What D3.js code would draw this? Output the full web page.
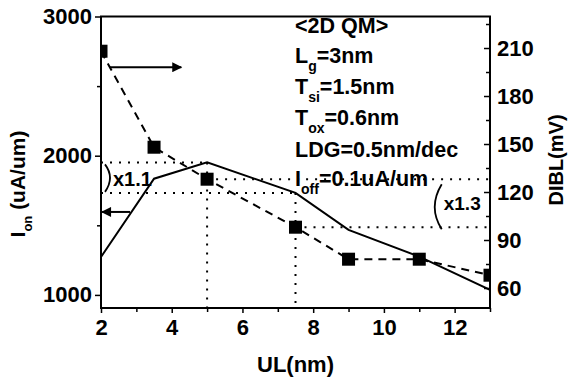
<!DOCTYPE html>
<html>
<head>
<meta charset="utf-8">
<script src="https://cdn.jsdelivr.net/npm/d3@7"></script>
<style>
  body { margin: 0; background: #fff; }
  svg text { font-family: "Liberation Sans", Arial, sans-serif; font-weight: bold; fill: #000; }
</style>
</head>
<body>
<div id="chart"></div>
<script>
// data
var ulValues = [2, 3.5, 5, 7.5, 9, 11, 13];            // UL (nm)
var ionValues = [1273, 1835, 1952, 1733, 1467, 1275, 1036]; // Ion (uA/um), solid line
var diblValues = [208, 148, 128, 98, 78, 78, 68];       // DIBL (mV), dashed + squares
var xTicks = [2, 4, 6, 8, 10, 12];
var xMinor = [3, 5, 7, 9, 11, 13];
var ionTicks = [1000, 2000, 3000];
var ionMinor = [1500, 2500];
var diblTicks = [60, 90, 120, 150, 180, 210];
var diblMinor = [75, 105, 135, 165, 195, 225];
var infoLines = [
  {main: "<2D QM>", sub: "", rest: ""},
  {main: "L", sub: "g", rest: "=3nm"},
  {main: "T", sub: "si", rest: "=1.5nm"},
  {main: "T", sub: "ox", rest: "=0.6nm"},
  {main: "LDG=0.5nm/dec", sub: "", rest: ""},
  {main: "I", sub: "off", rest: "=0.1uA/um"}
];
// index of the peak point and the UL=7.5 point used by the ratio guides
var peakIdx = 2, cmpIdx = 3;

var svgWidth = 569, svgHeight = 380;
var margin = {top: 16.5, right: 79, bottom: 72, left: 101};
var width = svgWidth - margin.left - margin.right;
var height = svgHeight - margin.top - margin.bottom;

var svg = d3.select("#chart").append("svg")
    .attr("width", svgWidth)
    .attr("height", svgHeight);

var chart = svg.append("g")
    .attr("transform", `translate(${margin.left}, ${margin.top})`);

var x = d3.scaleLinear().domain([2, 13]).range([0, width]);
var yL = d3.scaleLinear().domain([906, 3000]).range([height, 0]);
var yR = d3.scaleLinear().domain([47.5, 229.7]).range([height, 0]);

svg.append("defs").append("clipPath").attr("id", "plotclip")
  .append("rect").attr("width", width).attr("height", height);

svg.select("defs").append("marker")
    .attr("id", "head")
    .attr("viewBox", "0 0 10 10")
    .attr("refX", 9).attr("refY", 5)
    .attr("markerWidth", 12).attr("markerHeight", 10)
    .attr("markerUnits", "userSpaceOnUse")
    .attr("orient", "auto")
  .append("path").attr("d", "M0,0 L10,5 L0,10 Z").attr("fill", "#000");

// axes
function styleAxis(g) {
  g.select(".domain").remove();
  g.selectAll(".tick line").attr("stroke", "#000").attr("stroke-width", 1.5);
  g.selectAll("text").attr("font-size", "22px");
}

chart.append("g").attr("transform", `translate(0, ${height})`)
  .call(d3.axisBottom(x).tickValues(xTicks).tickFormat(d3.format("d")).tickSize(5).tickPadding(6))
  .call(styleAxis);
chart.append("g").attr("transform", `translate(0, ${height})`)
  .call(d3.axisBottom(x).tickValues(xMinor).tickFormat("").tickSize(4))
  .call(styleAxis);

chart.append("g")
  .call(d3.axisLeft(yL).tickValues(ionTicks).tickFormat(d3.format("d")).tickSize(6).tickPadding(3))
  .call(styleAxis);
chart.append("g")
  .call(d3.axisLeft(yL).tickValues(ionMinor).tickFormat("").tickSize(4))
  .call(styleAxis);

chart.append("g").attr("transform", `translate(${width}, 0)`)
  .call(d3.axisRight(yR).tickValues(diblTicks).tickFormat(d3.format("d")).tickSize(-6).tickPadding(7))
  .call(styleAxis);
chart.append("g").attr("transform", `translate(${width}, 0)`)
  .call(d3.axisRight(yR).tickValues(diblMinor).tickFormat("").tickSize(-4))
  .call(styleAxis);

// frame
chart.append("rect")
  .attr("width", width).attr("height", height)
  .attr("fill", "none").attr("stroke", "#000").attr("stroke-width", 2);

// dotted ratio guides
var guides = chart.append("g")
  .attr("stroke", "#000").attr("stroke-width", 2)
  .attr("stroke-dasharray", "2,7").attr("fill", "none");
[peakIdx, cmpIdx].forEach(function(i) {
  guides.append("line")
    .attr("x1", x(2)).attr("x2", x(ulValues[i]))
    .attr("y1", yL(ionValues[i])).attr("y2", yL(ionValues[i]));
  guides.append("line")
    .attr("x1", x(ulValues[i])).attr("x2", x(ulValues[i]))
    .attr("y1", yL(ionValues[i])).attr("y2", height);
  guides.append("line")
    .attr("x1", x(ulValues[i])).attr("x2", x(13))
    .attr("y1", yR(diblValues[i])).attr("y2", yR(diblValues[i]));
});

var plot = chart.append("g").attr("clip-path", "url(#plotclip)");

// Ion solid line
var ionLine = d3.line().x((d, i) => x(ulValues[i])).y(d => yL(d));
plot.append("path").datum(ionValues)
  .attr("d", ionLine)
  .attr("fill", "none").attr("stroke", "#000").attr("stroke-width", 2);

// DIBL dashed line + squares
var diblLine = d3.line().x((d, i) => x(ulValues[i])).y(d => yR(d));
plot.append("path").datum(diblValues)
  .attr("d", diblLine)
  .attr("fill", "none").attr("stroke", "#000").attr("stroke-width", 2)
  .attr("stroke-dasharray", "8,6");

var sq = 13;
plot.selectAll("rect.pt").data(diblValues).enter().append("rect")
  .attr("class", "pt")
  .attr("x", (d, i) => x(ulValues[i]) - sq / 2)
  .attr("y", d => yR(d) - sq / 2)
  .attr("width", sq).attr("height", sq)
  .attr("fill", "#000");

// arrows showing which axis each curve uses
chart.append("line")
  .attr("x1", x(2.25)).attr("x2", x(4.27))
  .attr("y1", yR(198)).attr("y2", yR(198))
  .attr("stroke", "#000").attr("stroke-width", 2).attr("marker-end", "url(#head)");
chart.append("line")
  .attr("x1", x(2.82)).attr("x2", x(2.03))
  .attr("y1", yL(1596)).attr("y2", yL(1596))
  .attr("stroke", "#000").attr("stroke-width", 2).attr("marker-end", "url(#head)");

// ratio brackets and labels
var bx1 = x(2) + 4;
chart.append("path")
  .attr("d", `M${bx1},${yL(ionValues[peakIdx]) + 2} Q${bx1 + 10},${(yL(ionValues[peakIdx]) + yL(ionValues[cmpIdx])) / 2} ${bx1},${yL(ionValues[cmpIdx]) - 1}`)
  .attr("fill", "none").attr("stroke", "#000").attr("stroke-width", 1.8);
chart.append("text")
  .attr("x", bx1 + 8).attr("y", yL(ionValues[cmpIdx]) - 7)
  .attr("font-size", "20px").text("x1.1");

var bx2 = x(11.55);
chart.append("path")
  .attr("d", `M${bx2 + 3},${yR(diblValues[peakIdx]) + 5} Q${bx2 - 11},${(yR(diblValues[peakIdx]) + yR(diblValues[cmpIdx])) / 2 + 4} ${bx2 + 3},${yR(diblValues[cmpIdx]) + 2}`)
  .attr("fill", "none").attr("stroke", "#000").attr("stroke-width", 1.8);
chart.append("text")
  .attr("x", bx2 + 5).attr("y", yR(diblValues[peakIdx]) + 31)
  .attr("font-size", "19px").text("x1.3");

// info text block
var info = svg.append("g");
var baselines = [33, 63, 94, 125, 157, 186];
infoLines.forEach(function(l, i) {
  var t = info.append("text")
    .attr("x", 295).attr("y", baselines[i])
    .attr("font-size", "21.5px");
  t.append("tspan").text(l.main);
  if (l.sub) {
    t.append("tspan").attr("font-size", "14px").attr("dy", 8).text(l.sub);
    t.append("tspan").attr("dy", -8).text(l.rest);
  }
});

// axis titles
svg.append("text")
  .attr("x", margin.left + width / 2).attr("y", 372)
  .attr("text-anchor", "middle").attr("font-size", "22px")
  .text("UL(nm)");

var ylab = svg.append("text")
  .attr("transform", "translate(25, 184) rotate(-90)")
  .attr("text-anchor", "middle").attr("font-size", "21px");
ylab.append("tspan").text("I");
ylab.append("tspan").attr("font-size", "13px").attr("dy", 7).text("on");
ylab.append("tspan").attr("dy", -7).text(" (uA/um)");

svg.append("text")
  .attr("transform", "translate(563, 160) rotate(-90)")
  .attr("text-anchor", "middle").attr("font-size", "20px")
  .text("DIBL(mV)");
</script>
</body>
</html>
